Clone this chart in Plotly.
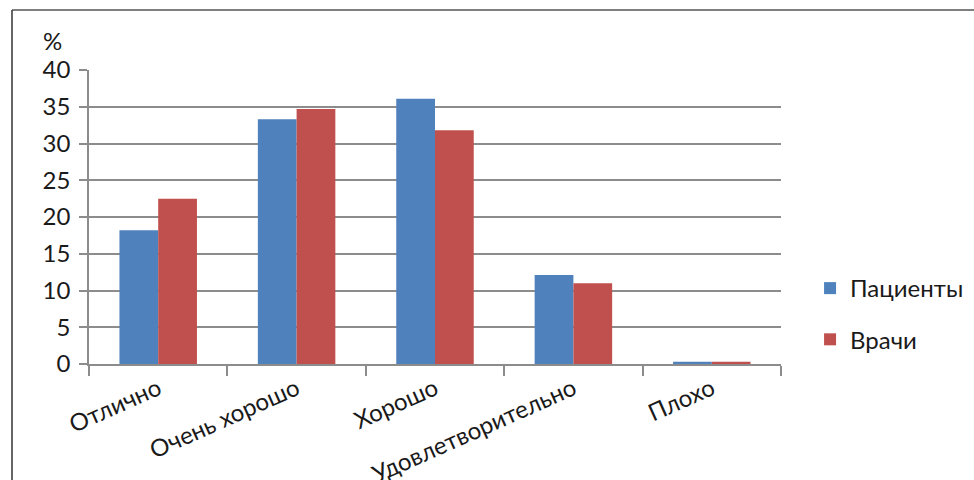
import plotly.graph_objects as go

categories = ["Отлично", "Очень хорошо", "Хорошо", "Удовлетворительно", "Плохо"]
patients = [18.2, 33.3, 36.1, 12.1, 0.3]
doctors = [22.5, 34.7, 31.8, 11.0, 0.3]
series_names = ["Пациенты", "Врачи"]
y_ticks = [0, 5, 10, 15, 20, 25, 30, 35, 40]

FONT = "Lato"
FS = 24
GRID = "#8c8c8c"
TEXT = "#1a1a1a"

# plot-area geometry in pixels (used for the outer frame shapes)
W, H = 974, 480
L, R, T, B = 89, 193, 70, 116
pw, ph = W - L - R, H - T - B


def px_x(x):
    return (x - L) / pw


def px_y(y):
    return (H - B - y) / ph


fig = go.Figure()
fig.add_trace(go.Bar(x=categories, y=patients, name=series_names[0],
                     marker=dict(color="#4F81BD", line_width=0),
                     legendgroup="a"))
fig.add_trace(go.Bar(x=categories, y=doctors, name=series_names[1],
                     marker=dict(color="#C0504D", line_width=0),
                     legendgroup="b"))

fig.update_layout(
    width=W, height=H,
    margin=dict(l=L, r=R, t=T, b=B, pad=0, autoexpand=False),
    paper_bgcolor="white", plot_bgcolor="white",
    barmode="group", bargap=0.44, bargroupgap=0,
    font=dict(family=FONT, size=FS, color=TEXT),
    showlegend=True,
    legend=dict(x=1.042, y=0.17, xanchor="left", yanchor="middle",
                font=dict(family=FONT, size=FS, color=TEXT),
                tracegroupgap=17, bgcolor="rgba(0,0,0,0)",
                itemclick=False),
    xaxis=dict(
        type="category", automargin=False, showgrid=False, showline=True,
        linecolor=GRID, linewidth=1.5, ticks="outside",
        tickson="boundaries", ticklen=10, tickcolor=GRID, tickwidth=1.5,
        tickangle=-24, tickfont=dict(family=FONT, size=FS, color=TEXT),
    ),
    yaxis=dict(
        range=[0, 40], automargin=False, tickvals=y_ticks, showgrid=True,
        gridcolor=GRID, gridwidth=1.5, showline=True, linecolor=GRID,
        linewidth=1.5, ticks="outside", ticklen=8, tickcolor=GRID,
        tickwidth=1.5, ticklabelstandoff=4, zeroline=False,
        tickfont=dict(family=FONT, size=FS, color=TEXT),
    ),
    annotations=[dict(text="%", xref="paper", yref="paper",
                      x=px_x(52), y=px_y(40), showarrow=False,
                      xanchor="center", yanchor="middle",
                      font=dict(family=FONT, size=FS, color=TEXT))],
    shapes=[
        dict(type="line", xref="paper", yref="paper",
             x0=px_x(12), x1=px_x(W + 5), y0=px_y(10), y1=px_y(10),
             line=dict(color="#7f7f7f", width=2)),
        dict(type="line", xref="paper", yref="paper",
             x0=px_x(12), x1=px_x(12), y0=px_y(10), y1=px_y(H + 5),
             line=dict(color="#333333", width=1.5)),
    ],
)

fig.write_html("out.html")
